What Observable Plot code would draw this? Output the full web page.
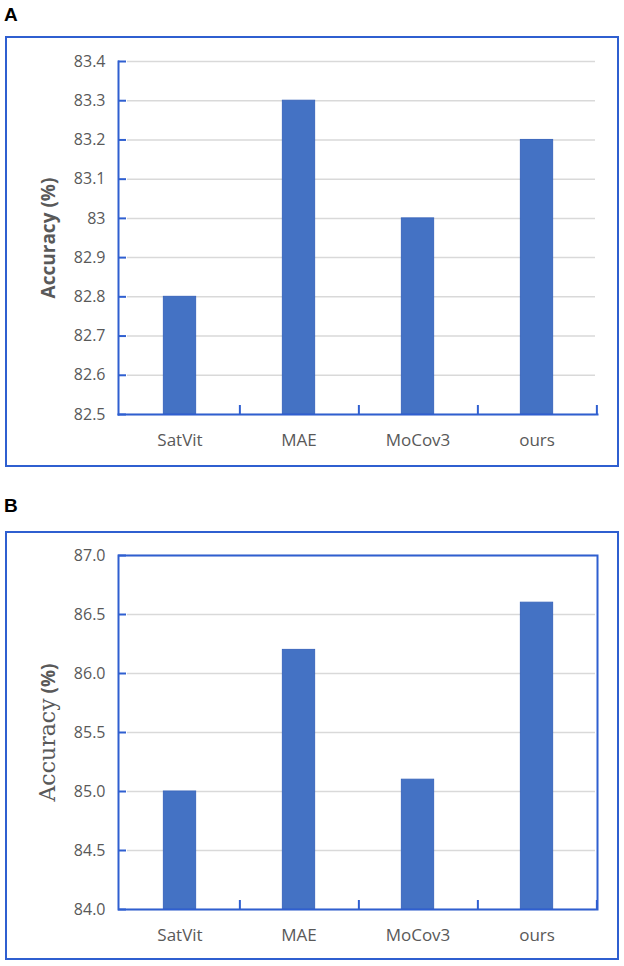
<!DOCTYPE html>
<html>
<head>
<meta charset="utf-8">
<script src="https://cdn.jsdelivr.net/npm/d3@7"></script>
<script src="https://cdn.jsdelivr.net/npm/@observablehq/plot@0.6"></script>
<style>
  html, body { margin: 0; padding: 0; background: white; }
  body { position: relative; width: 624px; height: 966px; overflow: hidden; }
  .plabel { position: absolute; left: 4px; font-family: "Liberation Sans", Arial, sans-serif; font-weight: bold; font-size: 19px; line-height: 19px; color: #000; }
  .box { position: absolute; left: 5px; width: 610px; border: 2px solid #2f5fd0; background: white; }
  .box svg { display: block; }
</style>
</head>
<body>
<div class="plabel" style="top:4.5px">A</div>
<div class="box" id="boxA" style="top:36px;height:427px"></div>
<div class="plabel" style="top:495.5px">B</div>
<div class="box" id="boxB" style="top:531px;height:425px"></div>
<script>
// ---- data ----
const methods = ["SatVit", "MAE", "MoCov3", "ours"];
const accuracyA = [82.8, 83.3, 83.0, 83.2];
const accuracyB = [85.0, 86.2, 85.1, 86.6];
const yTicksA = [82.5, 82.6, 82.7, 82.8, 82.9, 83.0, 83.1, 83.2, 83.3, 83.4];
const yTicksB = [84.0, 84.5, 85.0, 85.5, 86.0, 86.5, 87.0];
const yDomainA = [82.5, 83.4];
const yDomainB = [84.0, 87.0];
const yTitle = "Accuracy (%)";

const blue = "#2f5fd0";
const barColor = "#4472C4";
const textColor = "#595959";

function panel({values, yTicks, yDomain, height, marginTop, marginBottom, fullFrame, tickFormat}) {
  const width = 610, marginLeft = 111, marginRight = 20;
  const plotW = width - marginLeft - marginRight;
  const plotH = height - marginTop - marginBottom;
  const band = plotW / methods.length;
  const rows = methods.map((m, i) => ({method: m, acc: values[i]}));
  const frameMarks = fullFrame
    ? [Plot.frame({stroke: blue, strokeWidth: 2})]
    : [Plot.frame({anchor: "left", stroke: blue, strokeWidth: 2}),
       Plot.frame({anchor: "bottom", stroke: blue, strokeWidth: 2})];
  return Plot.plot({
    width, height, marginLeft, marginRight, marginTop, marginBottom,
    style: {fontFamily: "'Open Sans', sans-serif", fontSize: "16px", color: textColor, background: "white"},
    x: {domain: methods, padding: 0, label: null},
    y: {domain: yDomain, label: null},
    marks: [
      Plot.ruleY(yTicks, {stroke: "#d9d9d9", strokeWidth: 1.5, insetLeft: 9, insetRight: 2}),
      Plot.barY(rows, {x: "method", y1: yDomain[0], y2: "acc", fill: barColor, stroke: "#3d68bd", strokeWidth: 1, insetLeft: (band - 33) / 2, insetRight: (band - 33) / 2}),
      Plot.ruleY(yTicks, {stroke: blue, strokeWidth: 2, insetRight: plotW - 8}),
      Plot.ruleX(methods, {x: d => d, dx: band / 2, insetTop: plotH - 9, stroke: blue, strokeWidth: 2}),
      ...frameMarks,
      Plot.axisY(yTicks, {tickSize: 0, tickPadding: 13, tickFormat, fill: textColor, fontSize: 16}),
      Plot.axisX({tickSize: 0, tickPadding: 19, fill: textColor, fontSize: 17}),
      Plot.text([yTitle], {frameAnchor: "left", rotate: -90, dx: -70, textAnchor: "middle", fontWeight: "bold", fontSize: 19, fill: textColor})
    ]
  });
}

const chartA = panel({
  values: accuracyA, yTicks: yTicksA, yDomain: yDomainA,
  height: 427, marginTop: 23, marginBottom: 51, fullFrame: false,
  tickFormat: d => String(+d.toFixed(1))
});
document.getElementById("boxA").appendChild(chartA);

const chartB = panel({
  values: accuracyB, yTicks: yTicksB, yDomain: yDomainB,
  height: 425, marginTop: 22, marginBottom: 49, fullFrame: true,
  tickFormat: d => d.toFixed(1)
});
document.getElementById("boxB").appendChild(chartB);

// Panel B title: serif "Accuracy" + bold sans "(%)"
chartB.querySelectorAll("text").forEach(t => {
  if (t.textContent === yTitle) {
    t.textContent = "";
    const ns = "http://www.w3.org/2000/svg";
    const a = document.createElementNS(ns, "tspan");
    a.setAttribute("font-family", "'DejaVu Serif', 'Liberation Serif', serif");
    a.setAttribute("font-weight", "normal");
    a.setAttribute("font-size", "22");
    a.textContent = "Accuracy";
    const b = document.createElementNS(ns, "tspan");
    b.setAttribute("font-family", "'Open Sans', sans-serif");
    b.setAttribute("font-weight", "bold");
    b.setAttribute("font-size", "19");
    b.textContent = " (%)";
    t.appendChild(a);
    t.appendChild(b);
  }
});
</script>
</body>
</html>
